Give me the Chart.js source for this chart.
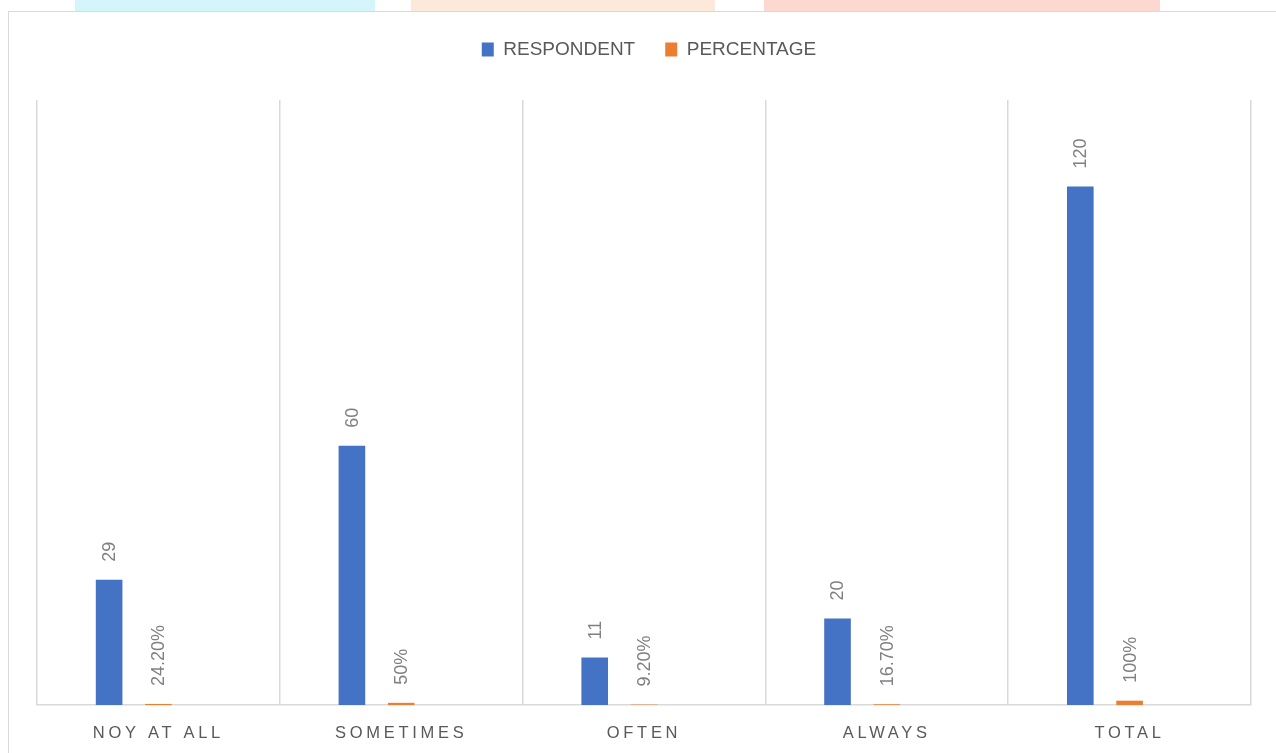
<!DOCTYPE html>
<html>
<head>
<meta charset="utf-8">
<script src="https://cdn.jsdelivr.net/npm/chart.js@4"></script>
<style>
  html, body { margin: 0; padding: 0; background: #fff; overflow: hidden; }
  body { width: 1276px; height: 753px; position: relative; }
  .wm { position: absolute; top: 0; height: 11px; }
  #frame { position: absolute; left: 8px; top: 11px; width: 1300px; height: 800px; border: 1px solid #d9d9d9; box-sizing: border-box; }
  #box { position: absolute; left: 9px; top: 10px; width: 1267px; height: 743px; }
</style>
</head>
<body>
<!-- faint watermark strip above the chart frame -->
<div class="wm" style="left:75px;width:300px;background:#d4f6fb"></div>
<div class="wm" style="left:411px;width:304px;background:#fde9da"></div>
<div class="wm" style="left:764px;width:396px;background:#fcd8d1"></div>
<div id="frame"></div>
<div id="box"><canvas id="myChart"></canvas></div>
<script>
// categories and values
var categories = ['NOY AT ALL', 'SOMETIMES', 'OFTEN', 'ALWAYS', 'TOTAL'];
var respondents = [29, 60, 11, 20, 120];
var percentages = [0.242, 0.5, 0.092, 0.167, 1];
var percentLabels = ['24.20%', '50%', '9.20%', '16.70%', '100%'];
var emptySeries = [null, null, null, null, null];

// value labels, written upwards above each bar
var barLabels = {
  id: 'barLabels',
  afterDatasetsDraw: function(chart) {
    var ctx = chart.ctx;
    ctx.save();
    ctx.font = '18px "Liberation Sans", Arial, sans-serif';
    ctx.fillStyle = '#808080';
    ctx.textAlign = 'left';
    ctx.textBaseline = 'middle';
    [0, 1].forEach(function(di) {
      var meta = chart.getDatasetMeta(di);
      meta.data.forEach(function(bar, i) {
        var txt = di === 0 ? String(respondents[i]) : percentLabels[i];
        ctx.save();
        ctx.translate(bar.x + 1, bar.y - 18);
        ctx.rotate(-Math.PI / 2);
        ctx.fillText(txt, 0, 0);
        ctx.restore();
      });
    });
    ctx.restore();
  }
};

// category names with wide letter spacing
var spacedTicks = {
  id: 'spacedTicks',
  afterDraw: function(chart) {
    var ctx = chart.ctx;
    var xs = chart.scales.x;
    ctx.save();
    ctx.font = '16.5px "Liberation Sans", Arial, sans-serif';
    ctx.fillStyle = '#595959';
    ctx.textAlign = 'center';
    ctx.textBaseline = 'middle';
    ctx.letterSpacing = '3.7px';
    categories.forEach(function(c, i) {
      ctx.fillText(c, xs.getPixelForValue(i), chart.chartArea.bottom + 28);
    });
    ctx.restore();
  }
};

// nudge the legend a little to the right, as in the picture
var legendShift = {
  id: 'legendShift',
  afterLayout: function(chart) {
    if (chart.legend) {
      chart.legend.left += 5;
      chart.legend.right += 5;
    }
  }
};

new Chart('myChart', {
  type: 'bar',
  data: {
    labels: categories,
    datasets: [
      { label: 'RESPONDENT', data: respondents, backgroundColor: '#4472C4' },
      { label: 'PERCENTAGE', data: percentages, backgroundColor: '#ED7D31' },
      { label: '', data: emptySeries, backgroundColor: '#A5A5A5' }
    ]
  },
  options: {
    responsive: true,
    maintainAspectRatio: false,
    animation: false,
    categoryPercentage: 0.609,
    barPercentage: 0.54,
    layout: { padding: { left: 28, right: 25, top: 0, bottom: 0 } },
    plugins: {
      tooltip: { enabled: false },
      legend: {
        position: 'top',
        labels: {
          boxWidth: 12,
          boxHeight: 14,
          padding: 30,
          color: '#595959',
          font: { size: 19, family: '"Liberation Sans", Arial, sans-serif' },
          filter: function(item) { return item.datasetIndex < 2; }
        }
      },
      // empty title used only as a gap under the legend
      title: { display: true, text: '', weight: 500, padding: { top: 0, bottom: 19 }, font: { size: 10, lineHeight: 1.2 } }
    },
    scales: {
      x: {
        grid: { display: true, offset: true, color: '#d9d9d9', lineWidth: 1.5, drawTicks: false },
        border: { display: true, color: '#d9d9d9', width: 1.5 },
        ticks: { color: 'rgba(0,0,0,0)', padding: 18, font: { size: 16 } },
        afterFit: function(scale) { scale.height = 48; }
      },
      y: {
        display: false,
        min: 0,
        max: 140
      }
    }
  },
  plugins: [barLabels, spacedTicks, legendShift]
});
</script>
</body>
</html>
